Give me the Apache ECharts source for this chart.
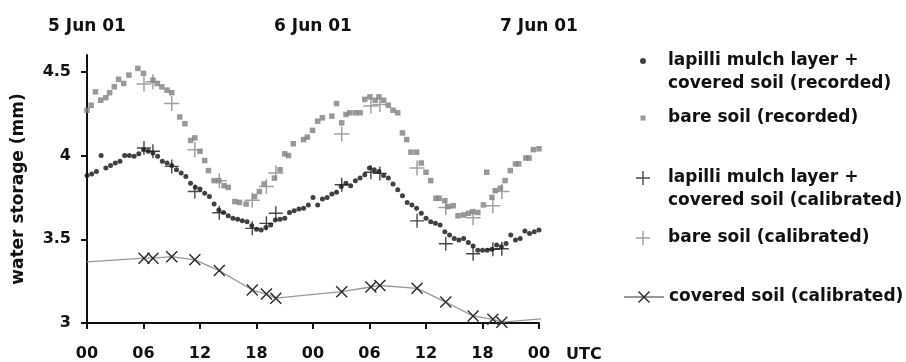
<!DOCTYPE html>
<html>
<head>
<meta charset="utf-8">
<script src="https://cdn.jsdelivr.net/npm/echarts@6/dist/echarts.min.js"></script>
<style>
  html, body { margin: 0; background: #fff; }
  #chart { width: 906px; height: 362px; }
</style>
</head>
<body>
<div id="chart"></div>
<script>
// hour labels under the axis, dates on top (day boundaries)
var hourLabels = ['00', '06', '12', '18', '00', '06', '12', '18', '00'];
var dayLabels = ['5 Jun 01', '6 Jun 01', '7 Jun 01'];

// recorded water storage, [hours since 5 Jun 00 UTC, mm]
var lapilliRecorded = [
  [0, 3.88], [0.5, 3.89], [1, 3.905], [1.5, 4.0], [2, 3.925], [2.5, 3.94], [3, 3.955], [3.5, 3.965],
  [4, 4.0], [4.5, 4.0], [5, 3.995], [5.5, 4.01], [6, 4.035], [6.5, 4.025], [7, 4.015], [7.5, 3.995],
  [8, 3.965], [8.5, 3.955], [9, 3.94], [9.5, 3.915], [10, 3.895], [10.5, 3.875], [11, 3.835], [11.5, 3.81],
  [12, 3.80], [12.5, 3.775], [13, 3.755], [13.5, 3.71], [14, 3.675], [14.5, 3.66], [15, 3.64], [15.5, 3.625],
  [16, 3.62], [16.5, 3.61], [17, 3.605], [17.5, 3.58], [18, 3.56], [18.5, 3.555], [19, 3.57], [19.5, 3.585],
  [20, 3.615], [20.5, 3.62], [21, 3.625], [21.5, 3.66], [22, 3.67], [22.5, 3.68], [23, 3.685], [23.5, 3.705],
  [24, 3.75], [24.5, 3.705], [25, 3.74], [25.5, 3.75], [26, 3.77], [26.5, 3.78], [27, 3.815], [27.5, 3.835],
  [28, 3.82], [28.5, 3.85], [29, 3.865], [29.5, 3.885], [30, 3.925], [30.5, 3.915], [31, 3.905], [31.5, 3.88],
  [32, 3.865], [32.5, 3.83], [33, 3.795], [33.5, 3.76], [34, 3.72], [34.5, 3.705], [35, 3.685], [35.5, 3.655],
  [36, 3.625], [36.5, 3.605], [37, 3.595], [37.5, 3.585], [38, 3.545], [38.5, 3.525], [39, 3.505], [39.5, 3.495],
  [40, 3.505], [40.5, 3.48], [41, 3.46], [41.5, 3.435], [42, 3.435], [42.5, 3.435], [43, 3.44], [43.5, 3.465],
  [44, 3.455], [44.5, 3.475], [45, 3.525], [45.5, 3.495], [46, 3.505], [46.5, 3.55], [47, 3.535], [47.5, 3.545],
  [48, 3.555]
];

var bareRecorded = [
  [0, 4.27], [0.45, 4.30], [0.9, 4.38], [1.45, 4.33], [2, 4.345], [2.4, 4.375], [2.9, 4.41], [3.35, 4.455],
  [3.9, 4.43], [4.45, 4.48], [5.4, 4.52], [6, 4.49], [7, 4.45], [7.45, 4.43], [7.95, 4.41], [8.5, 4.39],
  [9, 4.375], [9.85, 4.23], [10.4, 4.19], [11, 4.09], [11.45, 4.105], [12, 4.025], [12.5, 3.97], [12.9, 3.91],
  [13.5, 3.85], [14, 3.85], [14.55, 3.82], [15, 3.81], [15.7, 3.725], [16.2, 3.72], [16.9, 3.71], [17.8, 3.755],
  [18.3, 3.785], [18.8, 3.83], [19.9, 3.865], [20.5, 3.915], [21, 4.01], [21.4, 4.0], [21.9, 4.07], [23, 4.095],
  [23.4, 4.11], [23.95, 4.15], [24.5, 4.205], [25, 4.225], [26, 4.235], [26.5, 4.31], [27.05, 4.195], [27.5, 4.245],
  [27.9, 4.255], [28.5, 4.255], [29, 4.255], [29.5, 4.335], [30.05, 4.35], [30.6, 4.33], [31, 4.35], [31.5, 4.33],
  [32, 4.30], [32.5, 4.27], [33, 4.255], [33.5, 4.135], [33.95, 4.095], [34.4, 4.02], [35, 4.02], [35.5, 3.955],
  [36, 3.90], [36.5, 3.85], [37.05, 3.745], [37.4, 3.745], [38, 3.73], [38.35, 3.695], [38.9, 3.70], [39.4, 3.64],
  [40, 3.645], [40.5, 3.655], [40.95, 3.665], [41.5, 3.66], [42.1, 3.705], [42.45, 3.90], [43, 3.75], [43.35, 3.79],
  [43.9, 3.805], [44.4, 3.85], [44.95, 3.91], [45.5, 3.95], [45.85, 3.95], [46.6, 3.985], [46.95, 3.985], [47.4, 4.035],
  [48, 4.04]
];

// calibrated values at the calibration times
var calTimes = [6.05, 7.0, 9.0, 11.45, 14.05, 17.55, 19.05, 20.05, 27.05, 30.15, 31.1, 35.05, 38.1, 41.0, 43.1, 44.05];
var lapilliCal = [4.045, 4.025, 3.935, 3.785, 3.658, 3.565, 3.595, 3.655, 3.825, 3.9, 3.893, 3.61, 3.473, 3.413, 3.44, 3.443];
var bareCal = [4.427, 4.44, 4.31, 4.034, 3.85, 3.733, 3.815, 3.895, 4.128, 4.295, 4.305, 3.925, 3.69, 3.628, 3.70, 3.785];
var coveredCal = [3.387, 3.387, 3.396, 3.377, 3.313, 3.197, 3.173, 3.148, 3.187, 3.215, 3.224, 3.207, 3.125, 3.042, 3.022, 3.005];
// the covered soil line runs on past the first and last marker
var coveredEnds = [[0, 3.365], [48.85, 3.028]];

var FONT = 'DejaVu Sans';
var INK = '#111';
var PLUS = 'path://M0,6.3h14v1.4h-14zM6.3,0h1.4v14h-1.4z';
var CROSS = 'path://M0,1L1,0L12,11L11,12ZM11,0L12,1L1,12L0,11Z';
var SQUARE = 'path://M0,0h10v10h-10z';

var NAMES = [
  'lapilli mulch layer +\ncovered soil (recorded)',
  'bare soil (recorded)',
  'lapilli mulch layer +\ncovered soil (calibrated)',
  'bare soil (calibrated)',
  'covered soil (calibrated)'
];

function pairs(t, v) {
  return t.map(function (x, i) { return [x, v[i]]; });
}

var coveredData = [{ value: coveredEnds[0], symbol: 'none' }]
  .concat(pairs(calTimes, coveredCal))
  .concat([{ value: coveredEnds[1], symbol: 'none' }]);

var txt = { fontFamily: FONT, fontWeight: 'bold', color: INK };

// icons keep their aspect, so the box is shifted to put every icon centre at x=643
function legendBox(name, top, icon, h, iconW, twoLines) {
  return {
    left: 643 - iconW / 2, top: top, padding: 0,
    itemWidth: 40, itemHeight: h,
    selectedMode: false,
    data: [icon ? { name: name, icon: icon } : name],
    // a blank first line keeps the icon level with the first text line
    formatter: twoLines ? function (n) { return ' \n' + n; } : null,
    textStyle: Object.assign({}, txt, { fontSize: 17, lineHeight: 23 })
  };
}

var chart = echarts.init(document.getElementById('chart'), null, { renderer: 'canvas' });

chart.setOption({
  animation: false,
  backgroundColor: '#fff',
  grid: { left: 87, right: 367, top: 55, bottom: 39, outerBoundsMode: 'none' },
  legend: [
    legendBox(NAMES[0], 26.5, 'circle', 6, 6, true),
    legendBox(NAMES[1], 106.5, SQUARE, 5, 5, false),
    legendBox(NAMES[2], 143.5, PLUS, 14, 14, true),
    legendBox(NAMES[3], 226.5, PLUS, 14, 14, false),
    legendBox(NAMES[4], 285.5, null, 15, 40, false)
  ],
  xAxis: [{
    type: 'value', min: 0, max: 48, interval: 6,
    splitLine: { show: false },
    axisLine: { lineStyle: { color: INK, width: 2 } },
    axisTick: { length: 6, lineStyle: { color: INK, width: 2 } },
    axisLabel: Object.assign({}, txt, {
      fontSize: 16, margin: 23,
      formatter: function (v) { return hourLabels[Math.round(v / 6)]; }
    }),
    name: 'UTC', nameLocation: 'end', nameGap: 27,
    nameTextStyle: Object.assign({}, txt, { fontSize: 16, verticalAlign: 'top', padding: [24, 0, 0, 0] })
  }, {
    type: 'value', position: 'top', min: 0, max: 48, interval: 24,
    splitLine: { show: false },
    axisLine: { show: false },
    axisTick: { show: false },
    axisLabel: Object.assign({}, txt, {
      fontSize: 17, margin: 20,
      formatter: function (v) { return dayLabels[Math.round(v / 24)]; }
    })
  }],
  yAxis: {
    type: 'value', min: 3, max: 4.6, interval: 0.5,
    splitLine: { show: false },
    axisLine: { show: true, lineStyle: { color: INK, width: 2 } },
    axisTick: { show: true, length: 6, customValues: [3, 3.5, 4, 4.5], lineStyle: { color: INK, width: 2 } },
    axisLabel: Object.assign({}, txt, { fontSize: 16, margin: 16, customValues: [3, 3.5, 4, 4.5] }),
    name: 'water storage (mm)', nameLocation: 'middle', nameGap: 60, nameMoveOverlap: false,
    nameTextStyle: Object.assign({}, txt, { fontSize: 17 })
  },
  series: [
    {
      name: NAMES[1], type: 'scatter', data: bareRecorded,
      symbol: 'rect', symbolSize: 5.5, itemStyle: { color: '#808080' }
    },
    {
      name: NAMES[0], type: 'scatter', data: lapilliRecorded,
      symbol: 'circle', symbolSize: 5, itemStyle: { color: INK }
    },
    {
      name: NAMES[3], type: 'scatter', data: pairs(calTimes, bareCal),
      symbol: PLUS, symbolSize: 15, itemStyle: { color: '#8a8a8a' }
    },
    {
      name: NAMES[2], type: 'scatter', data: pairs(calTimes, lapilliCal),
      symbol: PLUS, symbolSize: 14, itemStyle: { color: '#1a1a1a' }
    },
    {
      name: NAMES[4], type: 'line', data: coveredData, clip: false,
      symbol: CROSS, symbolSize: 12, showSymbol: true,
      itemStyle: { color: '#2a2a2a' },
      lineStyle: { color: '#999', width: 1.3 }
    }
  ]
});
</script>
</body>
</html>
